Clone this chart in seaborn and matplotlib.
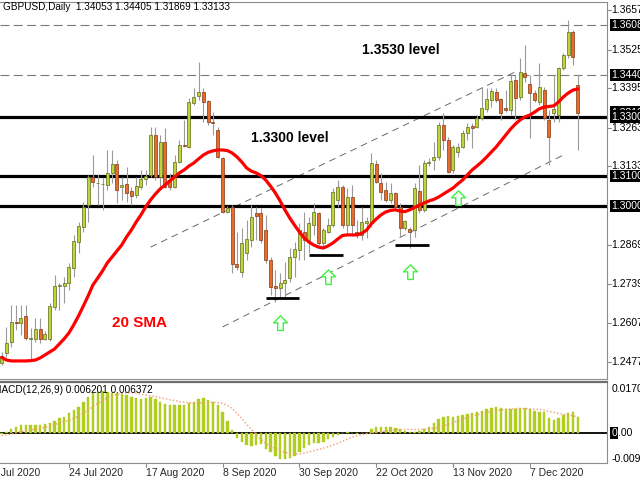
import numpy as np
import pandas as pd
import matplotlib
matplotlib.use("Agg")
import matplotlib.pyplot as plt
import matplotlib.transforms as mtransforms
from matplotlib.path import Path
import seaborn as sns

sns.set_theme(style="white")
plt.rcParams['font.family'] = ['Liberation Sans', 'DejaVu Sans']

# ---------------- data (daily GBPUSD, 6 Jul 2020 .. 21 Dec 2020) ----------------
opens = [1.2472, 1.2505, 1.2545, 1.2611, 1.2607, 1.2632, 1.2553, 1.2553, 1.2587, 1.2553,
         1.2553, 1.2662, 1.2732, 1.2732, 1.2742, 1.2792, 1.2880, 1.2930, 1.3003, 1.3097,
         1.3077, 1.3074, 1.3070, 1.3112, 1.3141, 1.3064, 1.3074, 1.3050, 1.3037, 1.3065,
         1.3091, 1.3104, 1.3238, 1.3098, 1.3216, 1.3087, 1.3065, 1.3149, 1.3205, 1.3199,
         1.3345, 1.3369, 1.3384, 1.3352, 1.3283, 1.3255, 1.3160, 1.2981, 1.2998, 1.2805,
         1.2780, 1.2842, 1.2886, 1.2975, 1.2975, 1.2919, 1.2819, 1.2731, 1.2724, 1.2743,
         1.2757, 1.2830, 1.2852, 1.2914, 1.2886, 1.2935, 1.2977, 1.2876, 1.2914, 1.2936,
         1.3020, 1.3065, 1.2936, 1.3031, 1.2912, 1.2903, 1.2943, 1.2942, 1.3140, 1.3078,
         1.3054, 1.3020, 1.3043, 1.2998, 1.2927, 1.2922, 1.2919, 1.3051, 1.2987, 1.3143,
         1.3154, 1.3163, 1.3272, 1.3221, 1.3121, 1.3180, 1.3197, 1.3244, 1.3268, 1.3266,
         1.3294, 1.3325, 1.3356, 1.3384, 1.3358, 1.3328, 1.3322, 1.3423, 1.3367, 1.3447,
         1.3409, 1.3378, 1.3350, 1.3389, 1.3289, 1.3312, 1.3305, 1.3462, 1.3507, 1.3585,
         1.34053]
highs = [1.2511, 1.2595, 1.2668, 1.2668, 1.2668, 1.2668, 1.2591, 1.2624, 1.2624, 1.2580,
         1.2674, 1.2768, 1.2742, 1.2763, 1.2809, 1.2903, 1.2947, 1.3014, 1.3104, 1.3171,
         1.3107, 1.3094, 1.3188, 1.3188, 1.3154, 1.3098, 1.3132, 1.3065, 1.3098, 1.3121,
         1.3121, 1.3266, 1.3266, 1.3238, 1.3261, 1.3111, 1.3171, 1.3221, 1.3289, 1.3361,
         1.3395, 1.3484, 1.3395, 1.3356, 1.3317, 1.3266, 1.3165, 1.3000, 1.3003, 1.2914,
         1.2926, 1.2953, 1.3003, 1.2998, 1.2992, 1.2970, 1.2830, 1.2785, 1.2774, 1.2813,
         1.2858, 1.2880, 1.2942, 1.2981, 1.2964, 1.3009, 1.2981, 1.2925, 1.2959, 1.3059,
         1.3087, 1.3070, 1.3059, 1.3070, 1.2953, 1.2998, 1.2964, 1.3177, 1.3154, 1.3110,
         1.3082, 1.3076, 1.3048, 1.3009, 1.2953, 1.2931, 1.3076, 1.3138, 1.3154, 1.3160,
         1.3216, 1.3283, 1.3311, 1.3233, 1.3205, 1.3210, 1.3255, 1.3278, 1.3278, 1.3305,
         1.3400, 1.3395, 1.3395, 1.3395, 1.3361, 1.3389, 1.3440, 1.3440, 1.3496, 1.3540,
         1.3440, 1.3389, 1.3479, 1.3400, 1.3322, 1.3440, 1.3467, 1.3512, 1.3624, 1.3591,
         1.34405]
lows = [1.2466, 1.2494, 1.2528, 1.2584, 1.2567, 1.2550, 1.2483, 1.2545, 1.2540, 1.2550,
        1.2548, 1.2651, 1.2651, 1.2674, 1.2718, 1.2763, 1.2842, 1.2914, 1.2947, 1.3065,
        1.3003, 1.2987, 1.3054, 1.3077, 1.3010, 1.3020, 1.3014, 1.3003, 1.3027, 1.3057,
        1.3070, 1.3098, 1.3087, 1.3065, 1.3059, 1.3054, 1.3060, 1.3143, 1.3199, 1.3194,
        1.3339, 1.3356, 1.3283, 1.3272, 1.3238, 1.3160, 1.2976, 1.2976, 1.2775, 1.2785,
        1.2763, 1.2819, 1.2863, 1.2886, 1.2875, 1.2808, 1.2701, 1.2679, 1.2690, 1.2696,
        1.2746, 1.2763, 1.2819, 1.2819, 1.2841, 1.2903, 1.2869, 1.2863, 1.2908, 1.2931,
        1.2998, 1.2925, 1.2903, 1.2899, 1.2893, 1.2886, 1.2892, 1.2931, 1.3076, 1.3020,
        1.3014, 1.3011, 1.2985, 1.2897, 1.2919, 1.2858, 1.2897, 1.2976, 1.2981, 1.3135,
        1.3121, 1.3154, 1.3188, 1.3110, 1.3110, 1.3165, 1.3194, 1.3221, 1.3194, 1.3261,
        1.3289, 1.3316, 1.3333, 1.3350, 1.3289, 1.3316, 1.3305, 1.3289, 1.3356, 1.3417,
        1.3228, 1.3350, 1.3339, 1.3289, 1.3138, 1.3283, 1.3283, 1.3456, 1.3496, 1.3473,
        1.31869]
closes = [1.2498, 1.2541, 1.2611, 1.2608, 1.2624, 1.2556, 1.2556, 1.2587, 1.2553, 1.2570,
          1.2664, 1.2732, 1.2735, 1.2742, 1.2796, 1.2883, 1.2933, 1.2998, 1.3097, 1.3082,
          1.3077, 1.3075, 1.3112, 1.3141, 1.3054, 1.3070, 1.3045, 1.3034, 1.3067, 1.3091,
          1.3101, 1.3238, 1.3098, 1.3216, 1.3065, 1.3065, 1.3149, 1.3205, 1.3203, 1.3350,
          1.3367, 1.3384, 1.3350, 1.3283, 1.3278, 1.3165, 1.2981, 1.2993, 1.2805, 1.2796,
          1.2876, 1.2889, 1.2964, 1.2967, 1.2886, 1.2819, 1.2729, 1.2725, 1.2743, 1.2752,
          1.2830, 1.2855, 1.2919, 1.2886, 1.2943, 1.2981, 1.2876, 1.2919, 1.2936, 1.3048,
          1.3065, 1.2936, 1.3031, 1.2936, 1.2909, 1.2947, 1.2950, 1.3145, 1.3082, 1.3048,
          1.3020, 1.3045, 1.2998, 1.2925, 1.2950, 1.2914, 1.3059, 1.2987, 1.3143, 1.3149,
          1.3163, 1.3272, 1.3221, 1.3115, 1.3199, 1.3197, 1.3244, 1.3266, 1.3261, 1.3294,
          1.3328, 1.3358, 1.3387, 1.3356, 1.3311, 1.3322, 1.3419, 1.3361, 1.3451, 1.3432,
          1.3378, 1.3356, 1.3398, 1.3294, 1.3231, 1.3326, 1.3462, 1.3507, 1.3585, 1.3501,
          1.33133]
sma20 = [1.2492, 1.2483, 1.2480, 1.2480, 1.2480, 1.2480, 1.2481, 1.2483, 1.2490, 1.2500,
         1.2510, 1.2520, 1.2537, 1.2554, 1.2574, 1.2601, 1.2631, 1.2664, 1.2698, 1.2735,
         1.2758, 1.2782, 1.2809, 1.2829, 1.2849, 1.2869, 1.2896, 1.2919, 1.2946, 1.2970,
         1.2997, 1.3020, 1.3040, 1.3057, 1.3070, 1.3084, 1.3097, 1.3111, 1.3121, 1.3134,
         1.3144, 1.3158, 1.3171, 1.3180, 1.3185, 1.3188, 1.3188, 1.3186, 1.3178, 1.3165,
         1.3148, 1.3128, 1.3117, 1.3111, 1.3102, 1.3087, 1.3067, 1.3044, 1.3017, 1.2987,
         1.2960, 1.2936, 1.2913, 1.2893, 1.2879, 1.2869, 1.2862, 1.2859, 1.2866, 1.2876,
         1.2889, 1.2901, 1.2903, 1.2903, 1.2903, 1.2908, 1.2919, 1.2940, 1.2956, 1.2970,
         1.2980, 1.2985, 1.2987, 1.2983, 1.2981, 1.2987, 1.2995, 1.3003, 1.3010, 1.3017,
         1.3022, 1.3030, 1.3040, 1.3050, 1.3060, 1.3074, 1.3087, 1.3104, 1.3121, 1.3134,
         1.3148, 1.3164, 1.3181, 1.3198, 1.3218, 1.3238, 1.3258, 1.3275, 1.3289, 1.3299,
         1.3305, 1.3315, 1.3326, 1.3332, 1.3334, 1.3336, 1.3349, 1.3366, 1.3379, 1.3389,
         1.3393]
macd_main = [-0.0003, 0.0006, 0.0015, 0.0026, 0.0032, 0.0032, 0.0032, 0.0032, 0.0032, 0.0035,
             0.0041, 0.0049, 0.0058, 0.0065, 0.0077, 0.0090, 0.0103, 0.0123, 0.0142, 0.0155,
             0.0161, 0.0164, 0.0161, 0.0158, 0.0155, 0.0152, 0.0148, 0.0139, 0.0136, 0.0133,
             0.0136, 0.0139, 0.0132, 0.0123, 0.0114, 0.0110, 0.0110, 0.0110, 0.0110, 0.0116,
             0.0123, 0.0132, 0.0136, 0.0129, 0.0121, 0.0110, 0.0084, 0.0049, 0.0013, -0.0019,
             -0.0032, -0.0045, -0.0048, -0.0046, -0.0041, -0.0062, -0.0071, -0.0088, -0.0101, -0.0101,
             -0.0097, -0.0088, -0.0071, -0.0058, -0.0045, -0.0039, -0.0036, -0.0032, -0.0023, -0.0015,
             -0.0006, 0.0000, 0.0006, 0.0000, -0.0003, 0.0000, 0.0003, 0.0015, 0.0023, 0.0026,
             0.0026, 0.0026, 0.0019, 0.0015, 0.0010, 0.0006, 0.0006, 0.0010, 0.0015, 0.0026,
             0.0041, 0.0054, 0.0065, 0.0067, 0.0065, 0.0067, 0.0071, 0.0075, 0.0077, 0.0083,
             0.0088, 0.0093, 0.0097, 0.0101, 0.0097, 0.0093, 0.0093, 0.0096, 0.0097, 0.0097,
             0.0096, 0.0088, 0.0084, 0.0083, 0.0058, 0.0052, 0.0058, 0.0071, 0.0080, 0.0081,
             0.006201]
macd_signal = [-0.0009, -0.0006, -0.0003, 0.0003, 0.0006, 0.0010, 0.0013, 0.0015, 0.0019, 0.0023,
               0.0028, 0.0034, 0.0039, 0.0044, 0.0050, 0.0057, 0.0067, 0.0079, 0.0090, 0.0103,
               0.0116, 0.0127, 0.0137, 0.0145, 0.0151, 0.0155, 0.0157, 0.0157, 0.0156, 0.0152,
               0.0148, 0.0145, 0.0142, 0.0138, 0.0134, 0.0130, 0.0127, 0.0123, 0.0120, 0.0119,
               0.0117, 0.0117, 0.0119, 0.0120, 0.0120, 0.0119, 0.0116, 0.0108, 0.0096, 0.0077,
               0.0058, 0.0036, 0.0015, -0.0004, -0.0023, -0.0039, -0.0050, -0.0059, -0.0067, -0.0074,
               -0.0077, -0.0080, -0.0080, -0.0077, -0.0072, -0.0067, -0.0062, -0.0058, -0.0052, -0.0045,
               -0.0039, -0.0031, -0.0023, -0.0015, -0.0010, -0.0005, -0.0001, 0.0001, 0.0004, 0.0006,
               0.0009, 0.0012, 0.0013, 0.0014, 0.0015, 0.0015, 0.0015, 0.0015, 0.0015, 0.0017,
               0.0019, 0.0023, 0.0028, 0.0035, 0.0041, 0.0048, 0.0054, 0.0061, 0.0066, 0.0071,
               0.0076, 0.0080, 0.0084, 0.0088, 0.0090, 0.0093, 0.0094, 0.0096, 0.0096, 0.0096,
               0.0094, 0.0093, 0.0092, 0.0089, 0.0085, 0.0081, 0.0077, 0.0074, 0.0071, 0.0068,
               0.006372]

date_tick_pos = [-2, 14, 30, 46, 62, 78, 94, 110]
date_tick_labels = ["2 Jul 2020", "24 Jul 2020", "17 Aug 2020", "8 Sep 2020",
                    "30 Sep 2020", "22 Oct 2020", "13 Nov 2020", "7 Dec 2020"]
price_tick_values = [1.36570, 1.35250, 1.33950, 1.32630, 1.31330, 1.28690, 1.27390, 1.26070, 1.24770]
marked_levels = [1.36080, 1.34400, 1.33133, 1.33000, 1.31000, 1.30000]
solid_levels = [1.3300, 1.3100, 1.3000]
dashed_levels = [1.3608, 1.3440]
channel_upper_x = [31, 107]
channel_upper_y = [1.2862, 1.3450]
channel_lower_x = [46, 117]
channel_lower_y = [1.2594, 1.3171]
support_x0 = [55, 64, 82]
support_x1 = [62, 71, 89]
support_y = [1.2692, 1.2837, 1.2869]
arrow_x = [58, 68, 85, 95]
arrow_y = [1.2607, 1.2762, 1.2779, 1.3027]
macd_axis_values = [0.01704, -0.00997]

df = pd.DataFrame({"i": np.arange(len(opens)), "open": opens, "high": highs,
                   "low": lows, "close": closes, "sma": sma20,
                   "macd": macd_main, "signal": macd_signal})

# ---------------- figure ----------------
W, H = 640, 480
fig = plt.figure(figsize=(6.4, 4.8), dpi=100)
fig.patch.set_facecolor("white")
right_px = 607
ax1 = fig.add_axes([0, (H - 379) / H, right_px / W, 377 / H])
ax2 = fig.add_axes([0, (H - 463) / H, right_px / W, 81 / H])

xlim = (-0.354, 126.1)
for ax in (ax1, ax2):
    ax.set_xlim(*xlim)
    ax.set_facecolor("white")
    ax.set_xticks([])
    ax.set_yticks([])
    for s in ax.spines.values():
        s.set_color("#8c8c8c")
        s.set_linewidth(0.8)
    ax.spines["left"].set_visible(False)
ax1.set_ylim(1.24194, 1.36846)
ax2.set_ylim(-0.0115, 0.01987)
ax2.spines["top"].set_color("#6e6e6e")
ax2.spines["top"].set_linewidth(1.6)

# level lines
for lv in dashed_levels:
    ax1.axhline(lv, color="#7a7a7a", lw=0.8, dashes=(8, 4), zorder=1)
for lv in solid_levels:
    ax1.axhline(lv, color="black", lw=2.3, zorder=2)

# channel lines
ax1.plot(channel_upper_x, channel_upper_y, color="#6a6a6a", lw=0.7, dashes=(7, 5), zorder=1)
ax1.plot(channel_lower_x, channel_lower_y, color="#6a6a6a", lw=0.7, dashes=(7, 5), zorder=1)

# candles
up = df["close"] >= df["open"]
ax1.vlines(df["i"], df["low"], df["high"], color="#9a9a9a", lw=0.8, zorder=3)
body_bottom = np.minimum(df["open"], df["close"])
body_h = np.maximum(np.abs(df["close"] - df["open"]), 0.00012)
ax1.bar(df["i"][up], body_h[up], bottom=body_bottom[up], width=0.62,
        color="#bfd33a", edgecolor="#5f6a1c", linewidth=0.5, zorder=4)
ax1.bar(df["i"][~up], body_h[~up], bottom=body_bottom[~up], width=0.62,
        color="#ec6a2c", edgecolor="#7a3a18", linewidth=0.5, zorder=4)

# SMA
sns.lineplot(data=df, x="i", y="sma", ax=ax1, color="#ff0000", lw=2.3, zorder=5, legend=False)
ax1.set_xlabel("")
ax1.set_ylabel("")

# support segments
ax1.hlines(support_y, support_x0, support_x1, color="black", lw=2.0, zorder=6)

# arrows
verts = [(0, 0.55), (0.5, 0.05), (0.2, 0.05), (0.2, -0.5), (-0.2, -0.5), (-0.2, 0.05), (-0.5, 0.05), (0, 0.55)]
codes = [Path.MOVETO] + [Path.LINETO] * 6 + [Path.CLOSEPOLY]
arrow_marker = Path(verts, codes)
ax1.plot(arrow_x, arrow_y, ls="none", marker=arrow_marker, ms=11, mfc="white",
         mec="#3df23d", mew=1.0, zorder=7)

# MACD
ax2.axhline(0, color="black", lw=1.3, zorder=1)
ax2.bar(df["i"], df["macd"], width=0.5, color="#b2cc22", edgecolor="#b2cc22",
        linewidth=0.3, zorder=2)
sns.lineplot(data=df, x="i", y="signal", ax=ax2, color="#f49a72", lw=1.0, zorder=3, legend=False)
ax2.lines[-1].set_linestyle((0, (1, 1.5)))
ax2.set_xlabel("")
ax2.set_ylabel("")

# right price labels
tr1 = mtransforms.blended_transform_factory(ax1.transAxes, ax1.transData)
fs = 7.5
for v in price_tick_values:
    ax1.plot([1.0, 1.006], [v, v], color="#8c8c8c", lw=0.8, transform=tr1, clip_on=False)
    ax1.text(1.007, v, f"{v:.5f}", transform=tr1, fontsize=fs, va="center", ha="left",
             color="black", clip_on=False)
for v in marked_levels:
    ax1.text(1.007, v, f"{v:.5f}", transform=tr1, fontsize=fs, va="center", ha="left",
             color="white", clip_on=False,
             bbox=dict(boxstyle="square,pad=0.12", fc="black", ec="none"))

tr2 = mtransforms.blended_transform_factory(ax2.transAxes, ax2.transData)
for v in macd_axis_values:
    ax2.text(1.007, v, f"{v:.5f}", transform=tr2, fontsize=fs, va="center", ha="left",
             color="black", clip_on=False)
ax2.text(1.007, 0.0, "0", transform=tr2, fontsize=fs, va="center", ha="left", color="white",
         clip_on=False, bbox=dict(boxstyle="square,pad=0.1", fc="black", ec="none"))
ax2.text(1.0185, 0.0, ".00", transform=tr2, fontsize=fs, va="center", ha="left", color="black",
         clip_on=False)

# date labels
trx = mtransforms.blended_transform_factory(ax2.transData, ax2.transAxes)
for p, lab in zip(date_tick_pos, date_tick_labels):
    ax2.plot([p, p], [0, -0.05], color="#8c8c8c", lw=0.8, transform=trx, clip_on=False)
    ax2.text(p, -0.06, lab, transform=trx, fontsize=fs, va="top", ha="left", clip_on=False)

# texts
fig.text(3 / W, 1 - 7 / H, "GBPUSD,Daily  1.34053 1.34405 1.31869 1.33133", fontsize=7.2,
         va="center", ha="left", color="black")
fig.text(-7 / W, 1 - 390 / H, "MACD(12,26,9) 0.006201 0.006372", fontsize=7.2,
         va="center", ha="left", color="black")
fig.text(401 / W, 1 - 50 / H, "1.3530 level", fontsize=10, fontweight="bold",
         ha="center", va="center", color="black")
fig.text(290 / W, 1 - 138 / H, "1.3300 level", fontsize=10, fontweight="bold",
         ha="center", va="center", color="black")
fig.text(140 / W, 1 - 323 / H, "20 SMA", fontsize=11, fontweight="bold",
         ha="center", va="center", color="#ff0000")

fig.savefig("out.png", dpi=100)
